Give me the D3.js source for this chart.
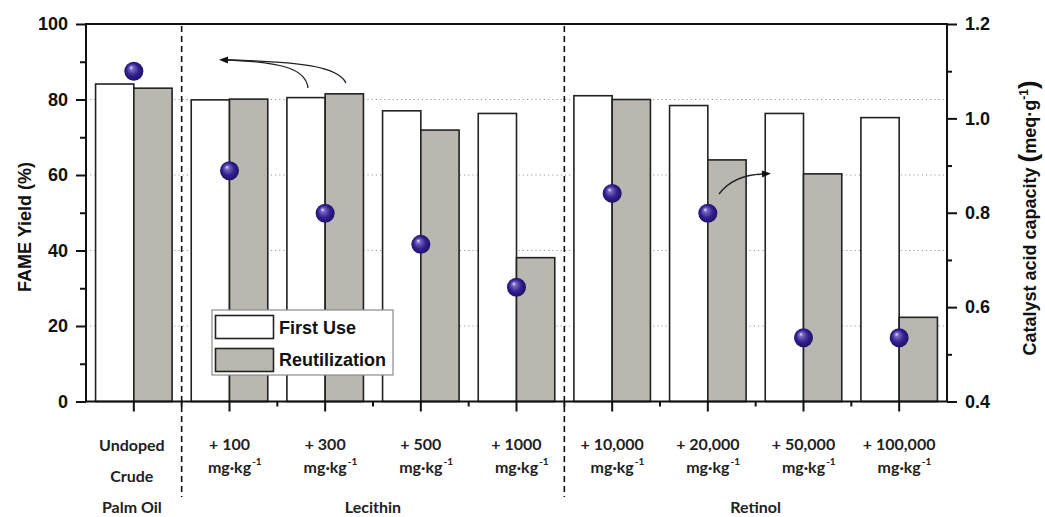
<!DOCTYPE html>
<html>
<head>
<meta charset="utf-8">
<script src="https://cdn.jsdelivr.net/npm/d3@7"></script>
<style>
  html, body { margin: 0; padding: 0; background: #ffffff; }
  svg { display: block; }
  .num { font-family: "Liberation Sans", Arial, sans-serif; font-weight: bold; font-size: 18px; fill: #111; }
  .cat { font-family: Lato, "Open Sans", sans-serif; font-weight: bold; font-size: 16px; fill: #222; }
</style>
</head>
<body>
<svg id="chart" width="1045" height="517"></svg>
<script>
// Treatments along the x axis (first line, second line of each label)
const labelTop = ["Undoped", "+ 100", "+ 300", "+ 500", "+ 1000", "+ 10,000", "+ 20,000", "+ 50,000", "+ 100,000"];
const labelUnit = [null, "mg·kg", "mg·kg", "mg·kg", "mg·kg", "mg·kg", "mg·kg", "mg·kg", "mg·kg"];
const groups = [
  { name: "Lecithin", from: 1, to: 4 },
  { name: "Retinol", from: 5, to: 8 }
];

// FAME yield (%) for fresh and reused catalyst
const firstUse = [84.1, 79.9, 80.5, 77.0, 76.3, 81.0, 78.4, 76.3, 75.2];
const reutilization = [83.0, 80.1, 81.5, 71.9, 38.1, 80.0, 64.0, 60.3, 22.3];

// Catalyst acid capacity (meq·g-1)
const acidCapacity = [1.10, 0.889, 0.799, 0.733, 0.642, 0.841, 0.799, 0.535, 0.535];

// Axis ticks
const yieldTicks = [0, 20, 40, 60, 80, 100];
const yieldMinor = [10, 30, 50, 70, 90];
const acidTicks = [0.4, 0.6, 0.8, 1.0, 1.2];
const acidMinor = [0.5, 0.7, 0.9, 1.1];
const gridValues = [20, 40, 60, 80];

const seriesNames = ["First Use", "Reutilization"];
const seriesFill = { "First Use": "#ffffff", "Reutilization": "#bab7b1" };

const svg = d3.select("#chart");
const plotL = 86, plotR = 947, plotT = 24, plotB = 401.5;

const idx = d3.range(labelTop.length);
const x = d3.scaleBand().domain(idx).range([plotL, plotR]).padding(0);
const xs = d3.scaleBand().domain(seriesNames).range([x.bandwidth() * 0.1, x.bandwidth() * 0.9]);
const yL = d3.scaleLinear().domain([0, 100]).range([plotB, plotT]);
const yR = d3.scaleLinear().domain([0.4, 1.2]).range([plotB, plotT]);

// sphere shading
const defs = svg.append("defs");
const grad = defs.append("radialGradient").attr("id", "sphere")
  .attr("cx", "50%").attr("cy", "50%").attr("r", "55%")
  .attr("fx", "35%").attr("fy", "30%");
grad.append("stop").attr("offset", "0%").attr("stop-color", "#e6e4fb");
grad.append("stop").attr("offset", "20%").attr("stop-color", "#7466c4");
grad.append("stop").attr("offset", "58%").attr("stop-color", "#33218d");
grad.append("stop").attr("offset", "100%").attr("stop-color", "#1c0c63");

defs.append("marker").attr("id", "arrowHead")
  .attr("viewBox", "0 0 10 10").attr("refX", 0).attr("refY", 5)
  .attr("markerWidth", 16).attr("markerHeight", 9).attr("markerUnits", "userSpaceOnUse")
  .attr("orient", "auto")
  .append("path").attr("d", "M0,1 L10,5 L0,9 Z").attr("fill", "#111");

// dotted grid behind the bars
svg.append("g").selectAll("line").data(gridValues).join("line")
  .attr("x1", plotL).attr("x2", plotR)
  .attr("y1", d => yL(d)).attr("y2", d => yL(d))
  .attr("stroke", "#9a9a9a").attr("stroke-width", 1.2)
  .attr("stroke-dasharray", "1.2 3");

// bars
const barData = idx.flatMap(i => [
  { i, s: "First Use", v: firstUse[i] },
  { i, s: "Reutilization", v: reutilization[i] }
]);
svg.append("g").selectAll("rect").data(barData).join("rect")
  .attr("x", d => x(d.i) + xs(d.s))
  .attr("width", xs.bandwidth())
  .attr("y", d => yL(d.v))
  .attr("height", d => yL(0) - yL(d.v))
  .attr("fill", d => seriesFill[d.s])
  .attr("stroke", "#222").attr("stroke-width", 1.6);

// group separators
const sepX = [x(1), x(5)];
svg.append("g").selectAll("line").data(sepX).join("line")
  .attr("x1", d => d).attr("x2", d => d)
  .attr("y1", plotT + 2).attr("y2", 497)
  .attr("stroke", "#111").attr("stroke-width", 1.6)
  .attr("stroke-dasharray", "6 4");

// annotation arrows
const ann = svg.append("g").attr("fill", "none").attr("stroke", "#222").attr("stroke-width", 1.3);
ann.append("path").attr("d", "M308,88 C306,70 285,62 228,60");
ann.append("path").attr("d", "M346,83 C338,66 300,62 228,60").attr("marker-end", "url(#arrowHead)");
ann.append("path").attr("d", "M719,194 C728,182 742,175 762,174").attr("marker-end", "url(#arrowHead)");

// axes
function styleAxis(g) {
  g.select(".domain").remove();
  g.selectAll(".tick line").attr("stroke", "#111").attr("stroke-width", 2);
  g.selectAll(".tick text").attr("class", "num");
}
svg.append("g").attr("transform", `translate(${plotL},0)`)
  .call(d3.axisLeft(yL).tickValues(yieldTicks).tickSize(10).tickPadding(8).tickFormat(d3.format("d")))
  .call(styleAxis);
svg.append("g").attr("transform", `translate(${plotL},0)`)
  .call(d3.axisLeft(yL).tickValues(yieldMinor).tickSize(6).tickFormat(""))
  .call(styleAxis);
svg.append("g").attr("transform", `translate(${plotR},0)`)
  .call(d3.axisRight(yR).tickValues(acidTicks).tickSize(10).tickPadding(8).tickFormat(d3.format(".1f")))
  .call(styleAxis);
svg.append("g").attr("transform", `translate(${plotR},0)`)
  .call(d3.axisRight(yR).tickValues(acidMinor).tickSize(5).tickFormat(""))
  .call(styleAxis);

// x ticks: major at each treatment, minor at band edges
const xTicks = svg.append("g").attr("stroke", "#111").attr("stroke-width", 2);
xTicks.selectAll("line.maj").data(idx).join("line").attr("class", "maj")
  .attr("x1", d => x(d) + x.bandwidth() / 2).attr("x2", d => x(d) + x.bandwidth() / 2)
  .attr("y1", plotB).attr("y2", plotB + 10);
xTicks.selectAll("line.min").data(d3.range(1, idx.length)).join("line").attr("class", "min")
  .attr("x1", d => x(d)).attr("x2", d => x(d))
  .attr("y1", plotB).attr("y2", plotB + 5);

// frame
svg.append("rect").attr("x", plotL).attr("y", plotT)
  .attr("width", plotR - plotL).attr("height", plotB - plotT)
  .attr("fill", "none").attr("stroke", "#111").attr("stroke-width", 2);

// acid capacity spheres
svg.append("g").selectAll("circle").data(idx).join("circle")
  .attr("cx", d => x(d) + x.bandwidth() / 2)
  .attr("cy", d => yR(acidCapacity[d]))
  .attr("r", 9.5)
  .attr("fill", "url(#sphere)");

// category labels
const cats = svg.append("g");
idx.forEach(i => {
  const cx = x(i) + x.bandwidth() / 2;
  if (i === 0) {
    ["Undoped", "Crude", "Palm Oil"].forEach((t, k) => {
      cats.append("text").attr("class", "cat").attr("text-anchor", "middle")
        .attr("x", cx - 2).attr("y", 451 + k * 31).text(t);
    });
    return;
  }
  cats.append("text").attr("class", "cat").attr("text-anchor", "middle")
    .attr("x", cx).attr("y", 450).text(labelTop[i]);
  const unit = cats.append("text").attr("class", "cat").attr("text-anchor", "middle")
    .attr("x", cx).attr("y", 473).text(labelUnit[i]);
  const w = unit.node().getComputedTextLength();
  cats.append("text").attr("class", "cat")
    .attr("x", cx + w / 2 + 1).attr("y", 465).style("font-size", "10px").text("-1");
});
groups.forEach(g => {
  const cx = (x(g.from) + x(g.to) + x.bandwidth()) / 2;
  cats.append("text").attr("class", "cat").attr("text-anchor", "middle")
    .attr("x", cx).attr("y", 513).text(g.name);
});

// legend
const lg = svg.append("g");
lg.append("rect").attr("x", 212).attr("y", 310).attr("width", 181).attr("height", 65)
  .attr("fill", "#ffffff").attr("stroke", "#8a8a8a").attr("stroke-width", 1.2);
seriesNames.forEach((s, k) => {
  lg.append("rect").attr("x", 215.5).attr("y", 315.5 + k * 33).attr("width", 58).attr("height", 23)
    .attr("fill", seriesFill[s]).attr("stroke", "#222").attr("stroke-width", 1.6);
  lg.append("text").attr("class", "num").attr("x", 279).attr("y", 334 + k * 32).text(s);
});

// axis titles
svg.append("text").attr("class", "num").attr("text-anchor", "middle")
  .attr("transform", "translate(31,227) rotate(-90)").text("FAME Yield (%)");
const rt = svg.append("text").attr("class", "num").attr("text-anchor", "middle")
  .attr("transform", "translate(1036,218) rotate(-90)");
rt.append("tspan").text("Catalyst acid capacity ");
rt.append("tspan").style("font-size", "26px").attr("dy", 1).text("(");
rt.append("tspan").attr("dy", -1).text("meq·g");
rt.append("tspan").style("font-size", "12px").attr("dy", -8).text("-1");
rt.append("tspan").style("font-size", "26px").attr("dy", 9).text(")");
</script>
</body>
</html>
